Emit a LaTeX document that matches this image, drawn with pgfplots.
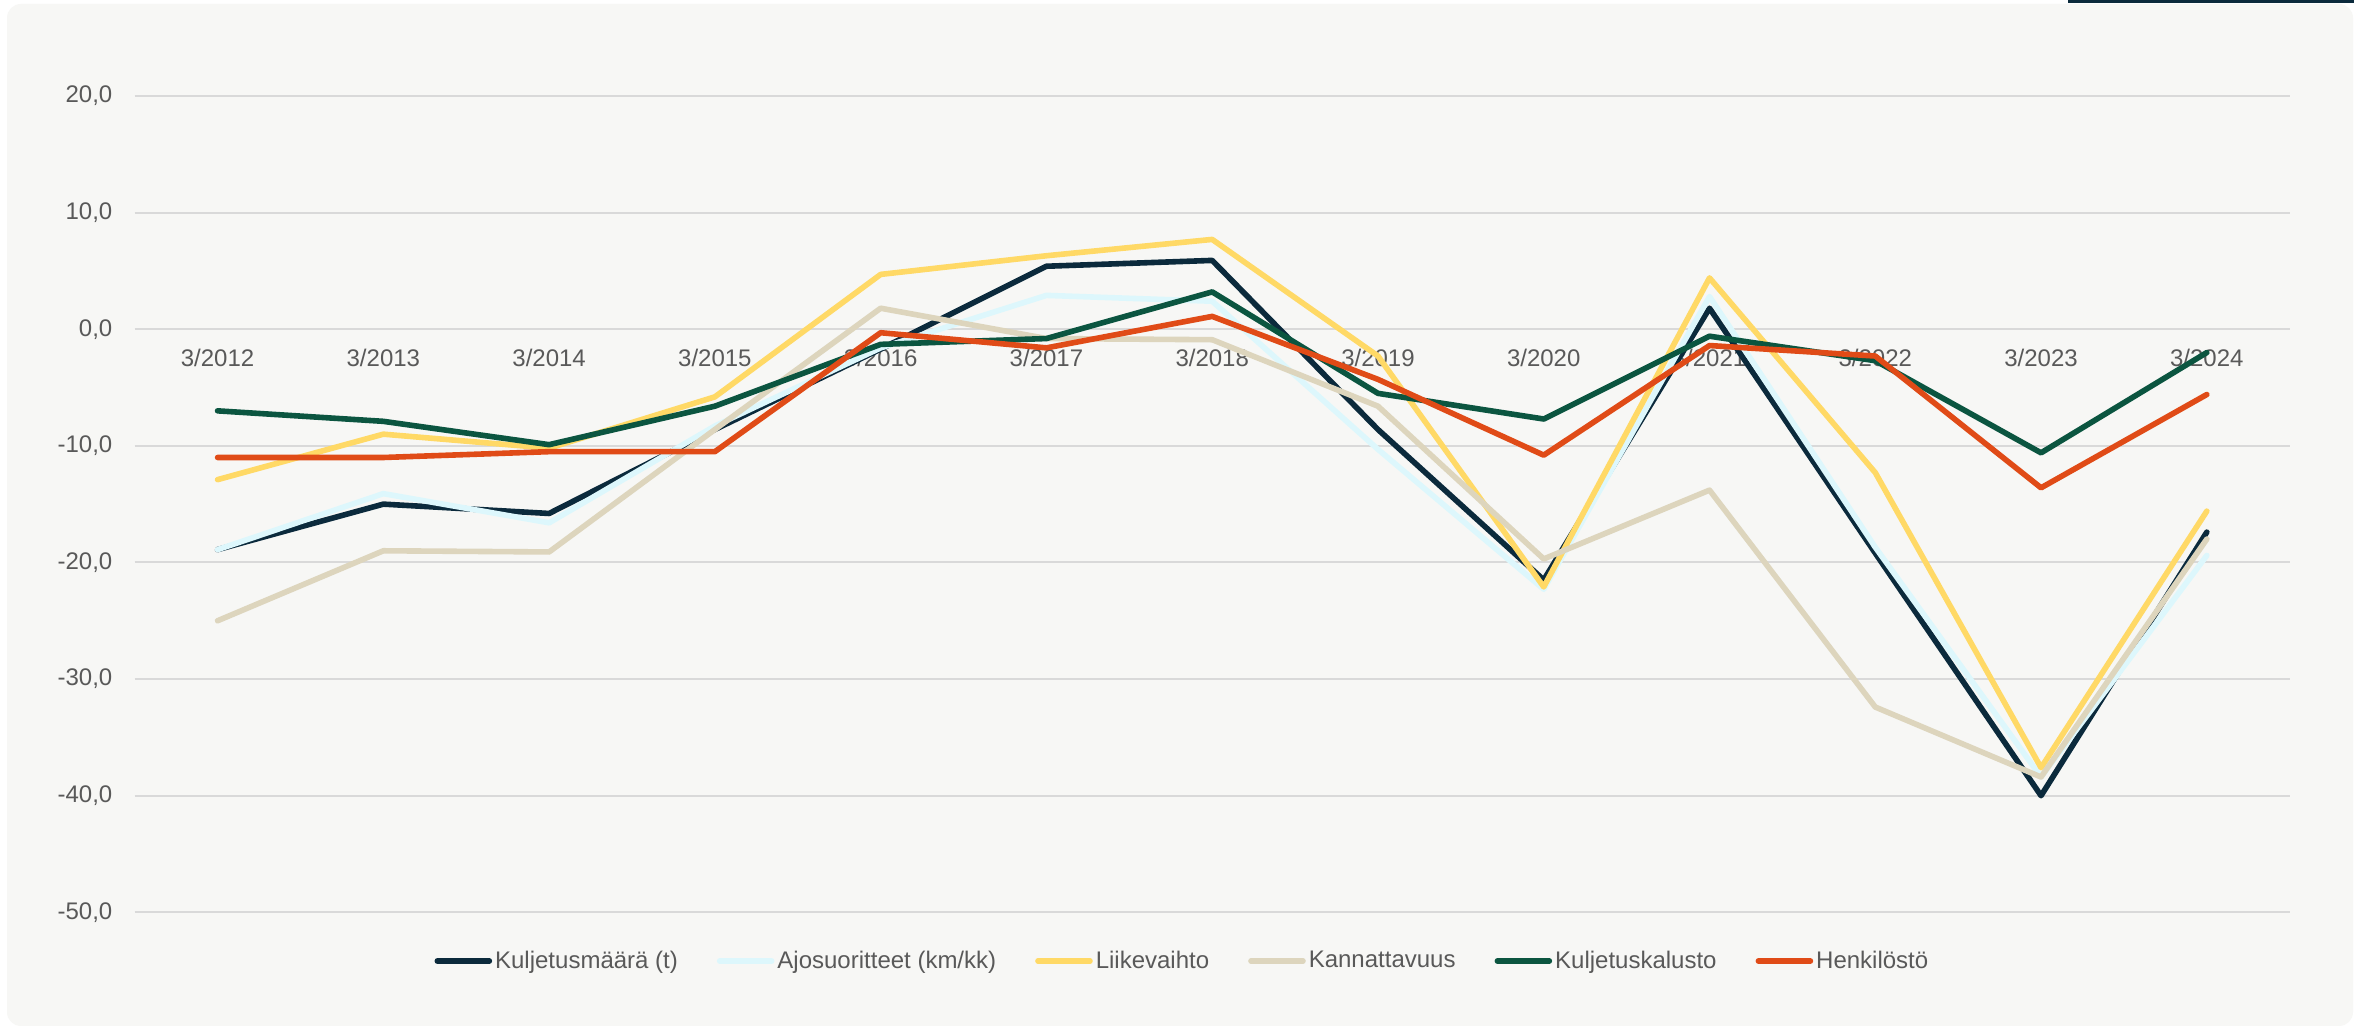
\documentclass[border=0pt]{standalone}
\usepackage{pgfplots}
\pgfplotsset{compat=1.18}
\usepackage{fontspec}
\setmainfont{Liberation Sans}
\definecolor{bgpanel}{HTML}{F7F7F5}
\definecolor{tickgray}{HTML}{595959}
\definecolor{gridgray}{HTML}{D9D9D9}
\definecolor{cnavy}{HTML}{0B2A3C}
\definecolor{ccyan}{HTML}{DDF7FC}
\definecolor{cyellow}{HTML}{FFD966}
\definecolor{cbeige}{HTML}{DDD5BD}
\definecolor{cgreen}{HTML}{0B5540}
\definecolor{corange}{HTML}{E04B17}
\newcommand{\lblfont}{\fontsize{12pt}{14pt}\selectfont}
\begin{document}
\begin{tikzpicture}
\fill[white] (0,0) rectangle (1181pt,513pt);
\fill[bgpanel, rounded corners=7pt] (3.5pt,0pt) rectangle (1176.5pt,511pt);
\fill[cnavy] (1034pt,511.5pt) rectangle (1177pt,513pt);
\begin{axis}[
  at={(67.35pt,56.85pt)}, anchor=south west,
  scale only axis, width=1077.5pt, height=408.15pt,
  xmin=-0.5, xmax=12.5, ymin=-50, ymax=20,
  axis line style={draw=none},
  major tick length=0pt,
  xtick={0,...,12},
  xticklabels={3/2012,3/2013,3/2014,3/2015,3/2016,3/2017,3/2018,3/2019,3/2020,3/2021,3/2022,3/2023,3/2024},
  ytick={-50,-40,...,20},
  ymajorgrids,
  grid style={color=gridgray, line width=1pt},
  /pgf/number format/.cd, fixed, fixed zerofill, precision=1, use comma, assume math mode=true,
  /pgfplots/.cd,
  every tick label/.append style={font=\lblfont, text=tickgray, inner sep=0pt},
  xticklabel style={anchor=center, yshift=277pt},
  yticklabel style={anchor=east, xshift=-11pt},
  legend columns=6,
  legend style={at={(axis description cs:0.4864,-0.0597)}, anchor=center,
    draw=none, fill=none, inner sep=0pt, column sep=0pt,
    nodes={inner sep=1.5pt, text=tickgray, font=\lblfont},
    /tikz/every even column/.append style={column sep=18pt}},
  legend image code/.code={\draw[#1, line cap=round] (0pt,0pt) -- (26pt,0pt);},
  every axis plot/.append style={line width=2.8pt, line join=round, line cap=round},
]
\addplot[cnavy] coordinates {(0,-18.9) (1,-15.0) (2,-15.8) (3,-8.6) (4,-1.7) (5,5.4) (6,5.9) (7,-8.6) (8,-21.5) (9,1.8) (10,-19.2) (11,-40.0) (12,-17.4)};
\addlegendentry{Kuljetusmäärä (t)}
\addplot[ccyan] coordinates {(0,-18.9) (1,-14.1) (2,-16.6) (3,-8.3) (4,-1.6) (5,2.9) (6,2.4) (7,-10.3) (8,-22.3) (9,2.8) (10,-18.7) (11,-38.4) (12,-19.4)};
\addlegendentry{Ajosuoritteet (km/kk)}
\addplot[cyellow] coordinates {(0,-12.9) (1,-9.0) (2,-10.2) (3,-5.8) (4,4.7) (5,6.3) (6,7.7) (7,-2.3) (8,-22.1) (9,4.4) (10,-12.3) (11,-37.6) (12,-15.6)};
\addlegendentry{Liikevaihto}
\addplot[cbeige] coordinates {(0,-25.0) (1,-19.0) (2,-19.1) (3,-8.6) (4,1.8) (5,-0.8) (6,-0.9) (7,-6.6) (8,-19.7) (9,-13.8) (10,-32.4) (11,-38.4) (12,-18.0)};
\addlegendentry{Kannattavuus}
\addplot[cgreen] coordinates {(0,-7.0) (1,-7.9) (2,-9.9) (3,-6.6) (4,-1.3) (5,-0.8) (6,3.2) (7,-5.5) (8,-7.7) (9,-0.6) (10,-2.7) (11,-10.6) (12,-2.0)};
\addlegendentry{Kuljetuskalusto}
\addplot[corange] coordinates {(0,-11.0) (1,-11.0) (2,-10.5) (3,-10.5) (4,-0.3) (5,-1.6) (6,1.1) (7,-4.3) (8,-10.8) (9,-1.4) (10,-2.3) (11,-13.6) (12,-5.6)};
\addlegendentry{Henkilöstö}
\end{axis}
\pgfresetboundingbox
\path (0,0) rectangle (1181pt,513pt);
\end{tikzpicture}
\end{document}
